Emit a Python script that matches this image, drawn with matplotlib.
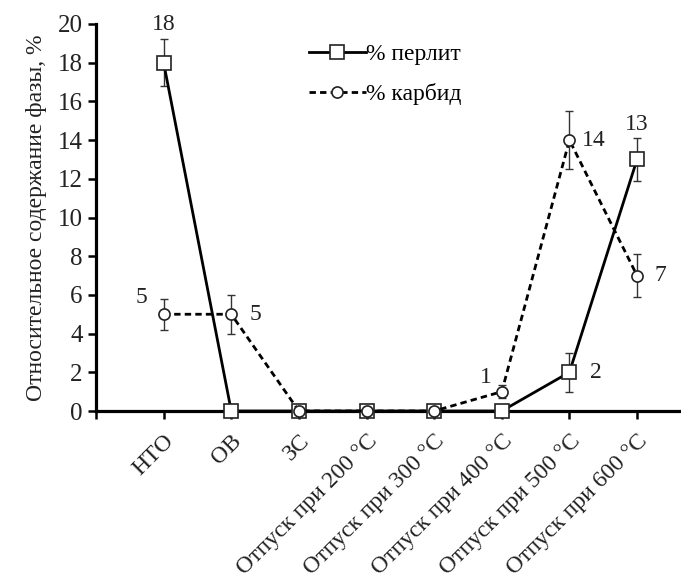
import numpy as np
import matplotlib
matplotlib.use('Agg')
import matplotlib.pyplot as plt

plt.rcParams['font.family'] = ['Liberation Serif', 'DejaVu Serif']
plt.rcParams['font.size'] = 17

categories = ['НТО', 'ОВ', 'ЗС', 'Отпуск при 200 °С', 'Отпуск при 300 °С',
              'Отпуск при 400 °С', 'Отпуск при 500 °С', 'Отпуск при 600 °С']
perlit = [18, 0, 0, 0, 0, 0, 2, 13]
perlit_err = [1.2, 0, 0, 0, 0, 0, 1.0, 1.1]
karbid = [5, 5, 0, 0, 0, 1, 14, 7]
karbid_err = [0.8, 1.0, 0, 0, 0, 0.35, 1.5, 1.1]

# value labels: (index, text, dx px, dy px)
labels_perlit = [(0, '18', 0, 38), (6, '2', 26, 0), (7, '13', 0, 35)]
labels_karbid = [(0, '5', -22, 17), (1, '5', 24, 0), (5, '1', -16, 14),
                 (6, '14', 24, 0), (7, '7', 23, 0)]

x = np.arange(len(categories))
txt = '#222222'

fig = plt.figure(figsize=(6.81, 5.80), dpi=100)
ax = fig.add_axes([96 / 681, 169 / 580, 585 / 681, 387 / 580])

ax.errorbar(x, perlit, yerr=perlit_err, fmt='none', ecolor='#333333',
            elinewidth=1.0, capsize=3, capthick=1.0, zorder=2, clip_on=False)
ax.errorbar(x, karbid, yerr=karbid_err, fmt='none', ecolor='#333333',
            elinewidth=1.0, capsize=3, capthick=1.0, zorder=2, clip_on=False)
ax.plot(x, perlit, '-', color='black', lw=2.0, marker='s', ms=9.5,
        mfc='white', mec='#222222', mew=1.2, label='% перлит',
        zorder=3, clip_on=False)
ax.plot(x, karbid, color='black', lw=2.0, ls=(0, (2.3, 1.5)), marker='o', ms=8,
        mfc='white', mec='#222222', mew=1.2, label='% карбид',
        zorder=4, clip_on=False)

for i, s, dx, dy in labels_perlit:
    ax.annotate(s, (x[i], perlit[i]), xytext=(dx * 0.72, dy * 0.72),
                textcoords='offset points', ha='center', va='center', color=txt)
for i, s, dx, dy in labels_karbid:
    ax.annotate(s, (x[i], karbid[i]), xytext=(dx * 0.72, dy * 0.72),
                textcoords='offset points', ha='center', va='center', color=txt)

ax.set_xlim(-1, 7.65)
ax.set_ylim(0, 20)
ax.set_yticks(range(0, 21, 2))
ax.set_xticks(x)
ax.set_xticks([-1], minor=True)
ax.set_xticklabels(categories, rotation=45, ha='right', va='top',
                   rotation_mode='anchor', color=txt)
ax.tick_params(axis='x', which='both', direction='out', length=6, width=1.8,
               pad=8)
ax.tick_params(axis='y', direction='out', length=6, width=1.8, labelcolor=txt,
               labelsize=18)
for s in ['top', 'right']:
    ax.spines[s].set_visible(False)
for s in ['left', 'bottom']:
    ax.spines[s].set_linewidth(2.3)
ax.set_ylabel('Относительное содержание фазы, %', color=txt, labelpad=8)

ax.legend(loc='upper left', bbox_to_anchor=(0.34, 0.985), frameon=False,
          handlelength=2.4, handletextpad=0.0, labelspacing=0.75,
          fontsize=17, borderaxespad=0.2)

fig.savefig('out.png', dpi=100)
